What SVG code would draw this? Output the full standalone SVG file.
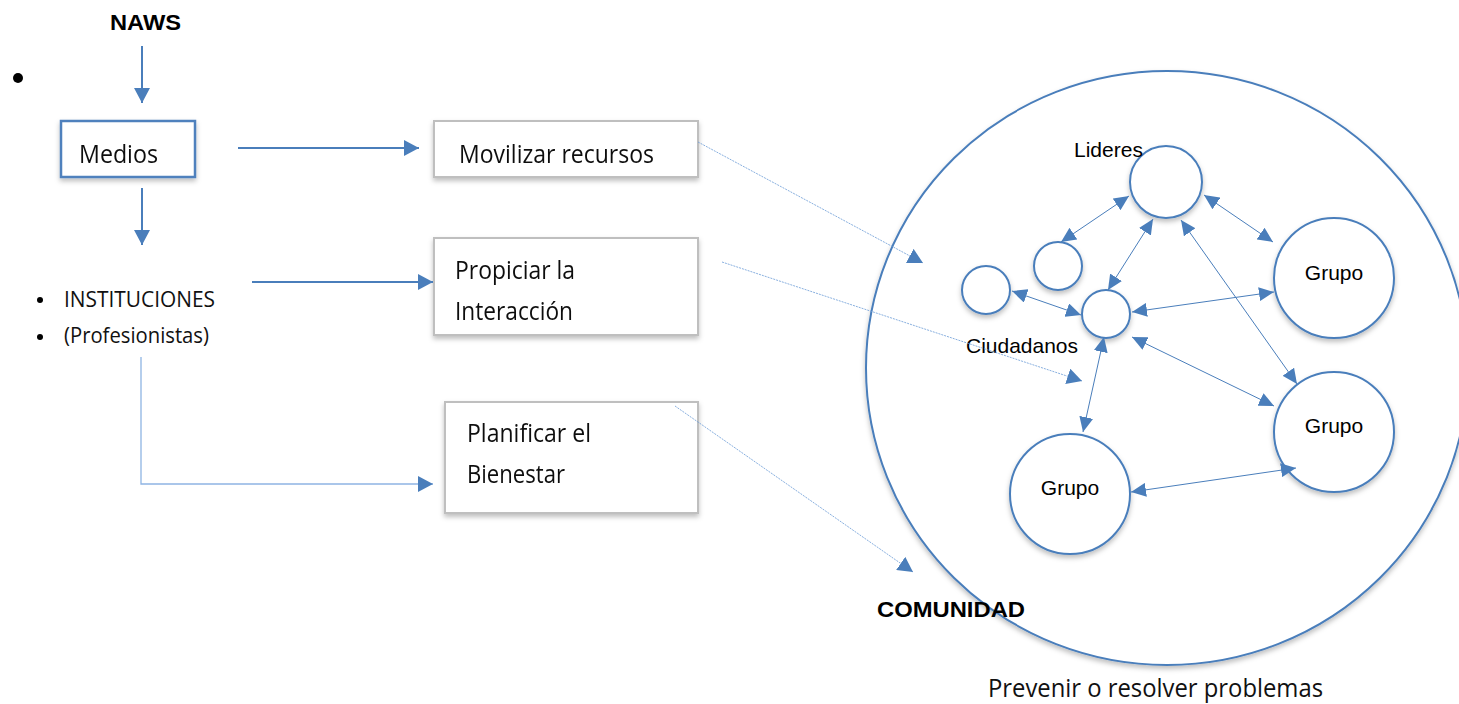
<svg xmlns="http://www.w3.org/2000/svg" width="1459" height="704" viewBox="0 0 1459 704">
<style>
.box{fill:#fff;stroke:#BFBFBF;stroke-width:2}
.boxb{fill:#fff;stroke:#4F81BD;stroke-width:2.5}
.bt{font-family:"Open Sans","Noto Sans",sans-serif;font-size:25px;fill:#111}
.lt{font-family:"Open Sans","Noto Sans",sans-serif;font-size:21px;fill:#111}
.at{font-family:"Liberation Sans",Arial,sans-serif;font-size:21px;fill:#000}
.ab{font-family:"Liberation Sans",Arial,sans-serif;font-size:22px;font-weight:bold;fill:#000}
.circ{fill:#fff;stroke:#4A7EBB;stroke-width:2}
.main{fill:none;stroke:#4A7EBB;stroke-width:2;marker-end:url(#ah)}
.thin{fill:none;stroke:#6A9BD6;stroke-width:0.8;stroke-dasharray:2 1;marker-end:url(#ah)}
.elb{fill:none;stroke:#8EB4E3;stroke-width:1.3;marker-end:url(#ah)}
.dbl{fill:none;stroke:#4A7EBB;stroke-width:1;marker-start:url(#ah2);marker-end:url(#ah2)}
</style>
<defs>
<filter id="sh" x="-20%" y="-20%" width="140%" height="150%">
<feDropShadow dx="0" dy="3" stdDeviation="2.5" flood-color="#000" flood-opacity="0.25"/>
</filter>
<marker id="ah" markerUnits="userSpaceOnUse" markerWidth="16" markerHeight="16" refX="15" refY="8" orient="auto-start-reverse">
<path d="M0,0 L15,8 L0,16 Z" fill="#4A7EBB"/>
</marker>
<marker id="ah2" markerUnits="userSpaceOnUse" markerWidth="16" markerHeight="14" refX="15" refY="7" orient="auto-start-reverse">
<path d="M0,0 L15,7 L0,14 Z" fill="#4A7EBB"/>
</marker>
</defs>

<g id="naws"><text class="ab" x="110" y="30" textLength="71" lengthAdjust="spacingAndGlyphs">NAWS</text></g>
<g id="bullet-top"><circle cx="18" cy="78" r="5" fill="#000"/></g>

<g id="medios" filter="url(#sh)">
<rect class="boxb" x="61" y="121" width="134" height="56"/>
<text class="bt" x="79" y="163" textLength="79" lengthAdjust="spacingAndGlyphs">Medios</text>
</g>
<g id="movilizar" filter="url(#sh)">
<rect class="box" x="434" y="121" width="264" height="56"/>
<text class="bt" x="459" y="163" textLength="195" lengthAdjust="spacingAndGlyphs">Movilizar recursos</text>
</g>
<g id="propiciar" filter="url(#sh)">
<rect class="box" x="434" y="238" width="264" height="97"/>
<text class="bt" x="455" y="279" textLength="120" lengthAdjust="spacingAndGlyphs">Propiciar la</text>
<text class="bt" x="455" y="320" textLength="118" lengthAdjust="spacingAndGlyphs">Interacción</text>
</g>
<g id="planificar" filter="url(#sh)">
<rect class="box" x="445" y="402" width="253" height="111"/>
<text class="bt" x="467" y="442" textLength="124" lengthAdjust="spacingAndGlyphs">Planificar el</text>
<text class="bt" x="467" y="483" textLength="98" lengthAdjust="spacingAndGlyphs">Bienestar</text>
</g>
<g id="instituciones">
<circle cx="40" cy="300" r="3" fill="#000"/>
<text class="lt" x="64" y="307" textLength="151" lengthAdjust="spacingAndGlyphs">INSTITUCIONES</text>
<circle cx="40" cy="337" r="3" fill="#000"/>
<text class="lt" x="64" y="343" textLength="145" lengthAdjust="spacingAndGlyphs">(Profesionistas)</text>
</g>

<g id="comunidad">
<ellipse class="circ" cx="1167" cy="368" rx="301" ry="297" filter="url(#sh)"/>
<text class="ab" x="877" y="617" textLength="148" lengthAdjust="spacingAndGlyphs">COMUNIDAD</text>
</g>
<g id="lideres">
<circle class="circ" cx="1166" cy="182" r="36" filter="url(#sh)"/>
<text class="at" x="1074" y="157">Lideres</text>
</g>
<g id="circulo-a"><circle class="circ" cx="1058" cy="266" r="24" filter="url(#sh)"/></g>
<g id="circulo-b"><circle class="circ" cx="986" cy="290" r="24" filter="url(#sh)"/></g>
<g id="ciudadanos">
<circle class="circ" cx="1106" cy="314" r="24" filter="url(#sh)"/>
<text class="at" x="966" y="353" textLength="112" lengthAdjust="spacingAndGlyphs">Ciudadanos</text>
</g>
<g id="grupo-1">
<circle class="circ" cx="1334" cy="278" r="60" filter="url(#sh)"/>
<text class="at" x="1334" y="280" text-anchor="middle">Grupo</text>
</g>
<g id="grupo-2">
<circle class="circ" cx="1334" cy="432" r="60" filter="url(#sh)"/>
<text class="at" x="1334" y="433" text-anchor="middle">Grupo</text>
</g>
<g id="grupo-3">
<circle class="circ" cx="1070" cy="494" r="60" filter="url(#sh)"/>
<text class="at" x="1070" y="495" text-anchor="middle">Grupo</text>
</g>
<g id="prevenir">
<text class="bt" x="988" y="697" textLength="335" lengthAdjust="spacingAndGlyphs">Prevenir o resolver problemas</text>
</g>

<g id="connectors">
<path class="main" d="M142,46 L142,103"/>
<path class="main" d="M238,148 L419,148"/>
<path class="main" d="M142,188 L142,245"/>
<path class="main" d="M252,282 L433,282"/>
<path class="elb" d="M141,357 L141,484 L433,484"/>
<path class="thin" d="M698,142 L923,263"/>
<path class="thin" d="M722,262 L1082,381"/>
<path class="thin" d="M675,406 L913,572"/>
<path class="dbl" d="M1061,242 L1129,196"/>
<path class="dbl" d="M1108,290 L1153,219"/>
<path class="dbl" d="M1204,195 L1273,242"/>
<path class="dbl" d="M1181,220 L1297,384"/>
<path class="dbl" d="M1012,291 L1081,315"/>
<path class="dbl" d="M1132,312 L1274,292"/>
<path class="dbl" d="M1104,337 L1083,432"/>
<path class="dbl" d="M1132,337 L1274,406"/>
<path class="dbl" d="M1131,492 L1296,468"/>
</g>
</svg>
